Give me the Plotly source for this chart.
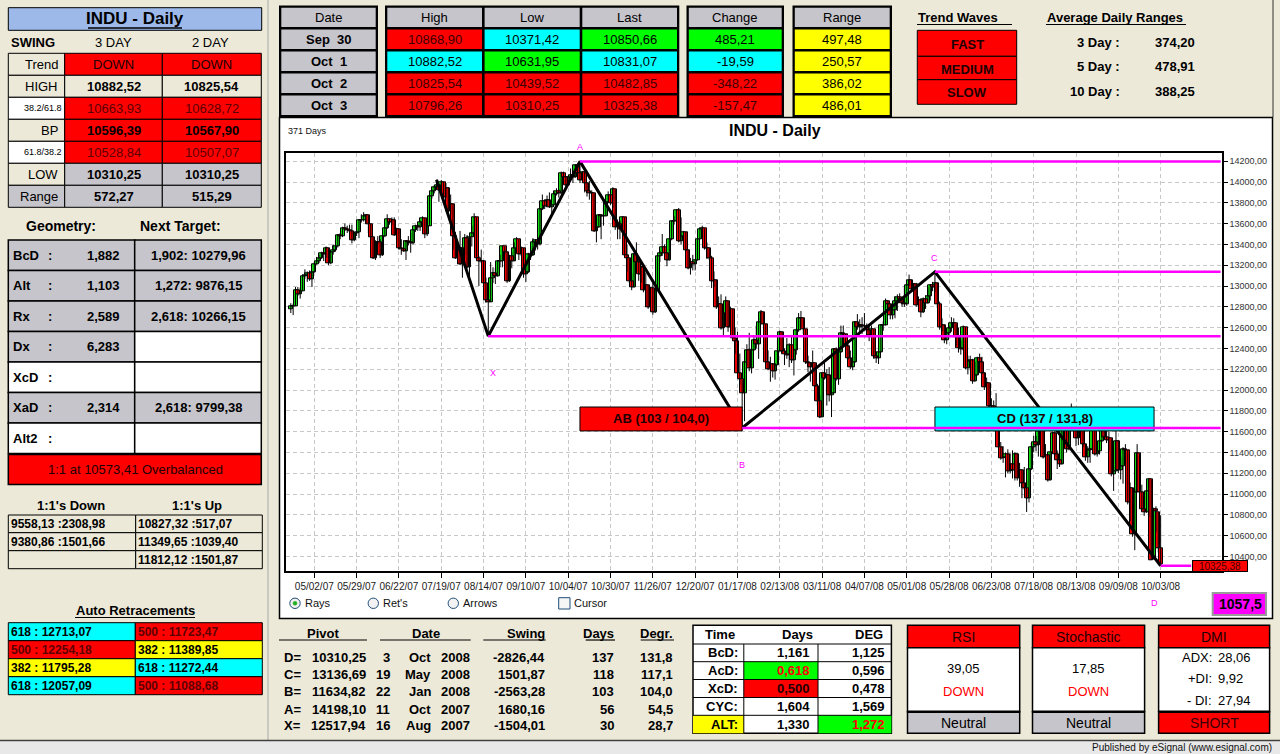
import numpy as np
import pandas as pd
import plotly.graph_objects as go

W, H = 1280, 754
FONT = "Liberation Sans, Arial, sans-serif"

BEIGE = "#ECE9D8"
GREY = "#C6C5CB"
RED = "#FF0000"
CYAN = "#00FFFF"
GREEN = "#00FF00"
YELLOW = "#FFFF00"
MAGENTA = "#FF00FF"
DARKRED = "#3A0000"
MAROON = "#5C0000"
CANDLE_UP = "#14D914"
CANDLE_DOWN = "#F00000"

# ---------------- INDU daily bars, 18 Apr 2007 .. 3 Oct 2008 ----------------
first_session = "2007-04-18"
last_session = "2008-10-03"
market_holidays = ["2007-05-28", "2007-07-04", "2007-09-03", "2007-11-22", "2007-12-25",
                   "2008-01-01", "2008-01-21", "2008-02-18", "2008-03-21", "2008-05-26",
                   "2008-07-04", "2008-09-01"]

opens = [
    # 2007 Apr
    12773, 12804, 12809, 12962, 12919, 12954, 13090, 13106, 13121,
    # May
    13063, 13136, 13212, 13241, 13265, 13313, 13309, 13363, 13215, 13326, 13347, 13384, 13488, 13477, 13557, 13543, 13540, 13526, 13441, 13507, 13521, 13633,
    # Jun
    13628, 13668, 13676, 13595, 13466, 13267, 13424, 13425, 13295, 13482, 13554, 13639, 13613, 13635, 13489, 13546, 13360, 13352, 13338, 13428, 13422,
    # Jul
    13409, 13535, 13577, 13566, 13612, 13650, 13502, 13578, 13862, 13907, 13951, 13972, 13918, 14000, 13851, 13943, 13717, 13785, 13474, 13265, 13358,
    # Aug
    13212, 13362, 13463, 13182, 13469, 13504, 13658, 13271, 13240, 13237, 13029, 12861, 12846, 13079, 13121, 13091, 13236, 13236, 13379, 13322, 13042, 13289, 13239,
    # Sep
    13358, 13449, 13305, 13363, 13113, 13128, 13308, 13292, 13425, 13443, 13403, 13739, 13816, 13767, 13820, 13759, 13779, 13878, 13913,
    # Oct
    13896, 14088, 14047, 13968, 14044, 14066, 14044, 14165, 14079, 14015, 14093, 13985, 13913, 13893, 13889, 13522, 13567, 13676, 13675, 13672, 13807, 13870, 13792,
    # Nov
    13930, 13568, 13595, 13543, 13661, 13300, 13266, 13043, 12988, 13307, 13231, 13110, 13177, 12958, 13010, 12799, 12981, 12743, 12958, 13289, 13312,
    # Dec
    13372, 13315, 13249, 13445, 13620, 13626, 13727, 13433, 13474, 13518, 13340, 13167, 13232, 13207, 13246, 13451, 13549, 13552, 13360, 13366,
    # 2008 Jan
    13265, 13044, 13057, 12800, 12827, 12589, 12735, 12853, 12606, 12778, 12501, 12466, 12159, 12099, 11971, 12270, 12379, 12207, 12384, 12480, 12443,
    # Feb
    12650, 12743, 12635, 12265, 12200, 12247, 12182, 12240, 12373, 12552, 12377, 12348, 12337, 12427, 12284, 12381, 12570, 12685, 12694, 12582,
    # Mar
    12266, 12259, 12214, 12255, 12040, 11894, 11740, 12157, 12110, 12146, 11951, 11972, 12393, 12100, 12361, 12549, 12533, 12423, 12302, 12216,
    # Apr
    12263, 12654, 12606, 12626, 12609, 12612, 12576, 12527, 12582, 12325, 12302, 12362, 12619, 12620, 12849, 12825, 12720, 12763, 12849, 12892, 12872, 12831,
    # May
    12820, 13010, 13058, 12970, 13021, 12814, 12867, 12746, 12876, 12832, 12898, 13010, 12987, 13028, 12829, 12601, 12626, 12480, 12548, 12594, 12646,
    # Jun
    12638, 12504, 12403, 12390, 12604, 12210, 12280, 12290, 12084, 12142, 12307, 12269, 12160, 12029, 12063, 11843, 11842, 11807, 11812, 11453, 11347,
    # Jul
    11350, 11382, 11216, 11289, 11232, 11384, 11147, 11229, 11101, 11055, 10963, 11239, 11447, 11497, 11467, 11603, 11632, 11349, 11371, 11131, 11398, 11584,
    # Aug
    11378, 11326, 11284, 11616, 11656, 11431, 11734, 11782, 11642, 11533, 11616, 11660, 11479, 11349, 11417, 11430, 11628, 11386, 11413, 11503, 11715,
    # Sep
    11544, 11517, 11533, 11188, 11221, 11511, 11231, 11269, 11434, 11422, 10918, 11059, 10610, 11020, 11388, 11016, 10854, 10825, 11022, 11139, 10371.42,
    # Oct
    10850.66, 10825.00, 10482.85,
]

highs = [
    # 2007 Apr
    12835, 12830, 12990, 12990, 12985, 13110, 13160, 13140, 13150,
    # May
    13140, 13235, 13280, 13300, 13330, 13320, 13380, 13365, 13340, 13400, 13440, 13500, 13510, 13570, 13600, 13580, 13590, 13590, 13520, 13550, 13640, 13690,
    # Jun
    13710, 13690, 13680, 13600, 13470, 13440, 13480, 13450, 13500, 13570, 13690, 13650, 13660, 13660, 13560, 13550, 13450, 13440, 13440, 13480, 13510,
    # Jul
    13545, 13590, 13600, 13630, 13670, 13655, 13600, 13870, 13930, 13970, 14021.95, 13975, 14020, 14005, 13990, 13950, 13880, 13790, 13520, 13400, 13530,
    # Aug
    13400, 13500, 13490, 13480, 13580, 13700, 13660, 13290, 13350, 13250, 13080, 12870, 13230, 13180, 13170, 13250, 13300, 13380, 13380, 13330, 13300, 13330, 13420,
    # Sep
    13470, 13450, 13380, 13365, 13190, 13320, 13380, 13460, 13450, 13450, 13750, 13880, 13830, 13870, 13900, 13790, 13910, 13940, 13930,
    # Oct
    14100, 14100, 14050, 14060, 14130, 14070, 14170, 14180, 14198.10, 14100, 14100, 13990, 14010, 13920, 13890, 13600, 13690, 13690, 13760, 13820, 13910, 13880, 13950,
    # Nov
    13930, 13640, 13630, 13670, 13662, 13400, 13267, 13120, 13320, 13420, 13280, 13190, 13180, 13130, 13010, 12990, 13060, 12970, 13300, 13340, 13500,
    # Dec
    13400, 13320, 13460, 13625, 13670, 13740, 13750, 13660, 13530, 13520, 13345, 13270, 13300, 13260, 13460, 13560, 13580, 13553, 13420, 13367,
    # 2008 Jan
    13290, 13140, 13058, 12900, 12920, 12750, 12900, 12855, 12800, 12780, 12600, 12560, 12350, 12100, 12300, 12440, 12550, 12400, 12520, 12620, 12690,
    # Feb
    12770, 12745, 12636, 12380, 12320, 12260, 12260, 12480, 12570, 12560, 12400, 12500, 12450, 12530, 12400, 12590, 12740, 12760, 12695, 12583,
    # Mar
    12330, 12270, 12380, 12256, 12060, 11950, 12160, 12270, 12200, 12220, 12020, 12400, 12410, 12370, 12620, 12620, 12540, 12480, 12380, 12320,
    # Apr
    12660, 12730, 12680, 12700, 12740, 12640, 12620, 12620, 12583, 12370, 12400, 12630, 12660, 12880, 12860, 12830, 12800, 12900, 12920, 12930, 12890, 13000,
    # May
    13020, 13110, 13060, 13030, 13030, 12900, 12870, 12890, 12910, 12990, 13020, 13040, 13136.69, 13030, 12850, 12690, 12630, 12570, 12620, 12700, 12690,
    # Jun
    12640, 12600, 12480, 12620, 12605, 12330, 12330, 12300, 12270, 12320, 12350, 12320, 12170, 12120, 12064, 11920, 11900, 11970, 11813, 11500, 11460,
    # Jul
    11400, 11430, 11390, 11420, 11400, 11390, 11300, 11230, 11260, 11130, 11250, 11490, 11560, 11560, 11630, 11750, 11640, 11480, 11380, 11400, 11600, 11620,
    # Aug
    11420, 11370, 11620, 11720, 11657, 11750, 11870, 11790, 11660, 11700, 11720, 11700, 11480, 11460, 11440, 11650, 11630, 11450, 11530, 11730, 11716,
    # Sep
    11790, 11600, 11534, 11260, 11610, 11520, 11350, 11450, 11480, 11423, 11110, 11060, 11050, 11480, 11390, 11090, 10950, 11140, 11150, 11139.92, 10868.90,
    # Oct
    10882.52, 10825.54, 10796.26,
]

lows = [
    # 2007 Apr
    12740, 12720, 12809, 12905, 12880, 12950, 13070, 13040, 13050,
    # May
    12990, 13130, 13205, 13220, 13260, 13240, 13270, 13200, 13210, 13300, 13330, 13370, 13450, 13470, 13530, 13510, 13510, 13410, 13430, 13480, 13460, 13610,
    # Jun
    13620, 13600, 13510, 13440, 13260, 13250, 13400, 13270, 13290, 13470, 13550, 13590, 13590, 13480, 13430, 13350, 13300, 13330, 13250, 13390, 13320,
    # Jul
    13400, 13520, 13530, 13530, 13600, 13460, 13480, 13578, 13840, 13890, 13930, 13810, 13915, 13790, 13850, 13700, 13690, 13350, 13260, 13210, 13200,
    # Aug
    13080, 13300, 13170, 13070, 13380, 13500, 13260, 13000, 13220, 13000, 12840, 12517.94, 12845, 13030, 13020, 13090, 13180, 13180, 13300, 13030, 13040, 13170, 13239,
    # Sep
    13320, 13250, 13290, 13080, 13040, 13125, 13250, 13290, 13340, 13350, 13390, 13730, 13740, 13760, 13750, 13680, 13778, 13870, 13850,
    # Oct
    13880, 14010, 13930, 13965, 14040, 13990, 14040, 14050, 13990, 14010, 13900, 13860, 13830, 13820, 13520, 13420, 13560, 13450, 13580, 13670, 13800, 13780, 13750,
    # Nov
    13540, 13450, 13450, 13530, 13290, 13140, 13030, 12960, 12985, 13200, 13050, 13030, 12940, 12800, 12780, 12795, 12724, 12740, 12955, 13230, 13290,
    # Dec
    13290, 13190, 13245, 13440, 13590, 13620, 13420, 13400, 13380, 13330, 13160, 13110, 13150, 13150, 13245, 13450, 13500, 13350, 13260, 13250,
    # 2008 Jan
    12980, 12990, 12780, 12730, 12580, 12520, 12620, 12560, 12600, 12490, 12350, 12140, 12050, 11634.82, 11700, 12230, 12180, 12160, 12380, 12400, 12300,
    # Feb
    12630, 12620, 12240, 12190, 12080, 12120, 12100, 12240, 12370, 12360, 12240, 12300, 12220, 12260, 12140, 12340, 12560, 12600, 12540, 12250,
    # Mar
    12170, 12080, 12180, 12030, 11850, 11730, 11740, 12100, 11850, 11890, 11740, 11970, 12090, 12050, 12360, 12490, 12380, 12290, 12200, 12190,
    # Apr
    12262, 12580, 12550, 12540, 12580, 12520, 12470, 12470, 12300, 12260, 12250, 12362, 12570, 12620, 12760, 12680, 12680, 12690, 12760, 12850, 12800, 12800,
    # May
    12810, 13000, 12950, 12900, 12800, 12790, 12700, 12740, 12780, 12830, 12860, 12950, 12940, 12790, 12580, 12560, 12450, 12440, 12510, 12560, 12580,
    # Jun
    12420, 12360, 12340, 12380, 12200, 12150, 12190, 12060, 12080, 12140, 12200, 12150, 12000, 11940, 11830, 11810, 11730, 11790, 11440, 11330, 11300,
    # Jul
    11160, 11200, 11200, 11150, 11130, 11130, 11070, 10960, 11040, 10827.71, 10920, 11230, 11400, 11410, 11360, 11590, 11340, 11300, 11120, 11130, 11390, 11370,
    # Aug
    11240, 11260, 11284, 11560, 11400, 11420, 11700, 11600, 11460, 11470, 11580, 11450, 11320, 11300, 11300, 11430, 11370, 11360, 11380, 11500, 11520,
    # Sep
    11490, 11420, 11170, 11030, 11220, 11200, 11140, 11100, 11300, 10900, 10740, 10590, 10460, 11020, 11000, 10840, 10790, 10820, 10782.05, 10365.45, 10371.42,
    # Oct
    10631.95, 10439.52, 10310.25,
]

closes = [
    # 2007 Apr
    12804, 12809, 12962, 12919, 12954, 13090, 13106, 13121, 13063,
    # May
    13136, 13212, 13241, 13265, 13313, 13309, 13363, 13215, 13326, 13347, 13384, 13488, 13477, 13557, 13543, 13540, 13526, 13441, 13507, 13521, 13633, 13628,
    # Jun
    13668, 13676, 13595, 13466, 13267, 13424, 13425, 13295, 13482, 13554, 13639, 13613, 13635, 13489, 13546, 13360, 13352, 13338, 13428, 13422, 13409,
    # Jul
    13535, 13577, 13566, 13612, 13650, 13502, 13578, 13862, 13907, 13951, 13972, 13918, 14000, 13851, 13943, 13717, 13785, 13474, 13265, 13358, 13212,
    # Aug
    13362, 13463, 13182, 13469, 13504, 13658, 13271, 13240, 13237, 13029, 12861, 12846, 13079, 13121, 13091, 13236, 13236, 13379, 13322, 13042, 13289, 13239, 13358,
    # Sep
    13449, 13305, 13363, 13113, 13128, 13308, 13292, 13425, 13443, 13403, 13739, 13816, 13767, 13820, 13759, 13779, 13878, 13913, 13896,
    # Oct
    14088, 14047, 13968, 14044, 14066, 14044, 14165, 14079, 14015, 14093, 13985, 13913, 13893, 13889, 13522, 13567, 13676, 13675, 13672, 13807, 13870, 13792, 13930,
    # Nov
    13568, 13595, 13543, 13661, 13300, 13266, 13043, 12988, 13307, 13231, 13110, 13177, 12958, 13010, 12799, 12981, 12743, 12958, 13289, 13312, 13372,
    # Dec
    13315, 13249, 13445, 13620, 13626, 13727, 13433, 13474, 13518, 13340, 13167, 13232, 13207, 13246, 13451, 13549, 13552, 13360, 13366, 13265,
    # 2008 Jan
    13044, 13057, 12800, 12827, 12589, 12735, 12853, 12606, 12778, 12501, 12466, 12159, 12099, 11971, 12270, 12379, 12207, 12384, 12480, 12443, 12650,
    # Feb
    12743, 12635, 12265, 12200, 12247, 12182, 12240, 12373, 12552, 12377, 12348, 12337, 12427, 12284, 12381, 12570, 12685, 12694, 12582, 12266,
    # Mar
    12259, 12214, 12255, 12040, 11894, 11740, 12157, 12110, 12146, 11951, 11972, 12393, 12100, 12361, 12549, 12533, 12423, 12302, 12216, 12263,
    # Apr
    12654, 12606, 12626, 12609, 12612, 12576, 12527, 12582, 12325, 12302, 12362, 12619, 12620, 12849, 12825, 12720, 12763, 12849, 12892, 12872, 12831, 12820,
    # May
    13010, 13058, 12970, 13021, 12814, 12867, 12746, 12876, 12832, 12898, 13010, 12987, 13028, 12829, 12601, 12626, 12480, 12548, 12594, 12646, 12638,
    # Jun
    12504, 12403, 12390, 12604, 12210, 12280, 12290, 12084, 12142, 12307, 12269, 12160, 12029, 12063, 11843, 11842, 11807, 11812, 11453, 11347, 11350,
    # Jul
    11382, 11216, 11289, 11232, 11384, 11147, 11229, 11101, 11055, 10963, 11239, 11447, 11497, 11467, 11603, 11632, 11349, 11371, 11131, 11398, 11584, 11378,
    # Aug
    11326, 11284, 11616, 11656, 11431, 11734, 11782, 11642, 11533, 11616, 11660, 11479, 11349, 11417, 11430, 11628, 11386, 11413, 11503, 11715, 11544,
    # Sep
    11517, 11533, 11188, 11221, 11511, 11231, 11269, 11434, 11422, 10918, 11059, 10610, 11020, 11388, 11016, 10854, 10825, 11022, 11143, 10365.45, 10850.66,
    # Oct
    10831.07, 10482.85, 10325.38,
]

date_tick_labels = ["05/02/07", "05/29/07", "06/22/07", "07/19/07", "08/14/07", "09/10/07",
                    "10/04/07", "10/30/07", "11/26/07", "12/20/07", "01/17/08", "02/13/08",
                    "03/11/08", "04/07/08", "05/01/08", "05/28/08", "06/23/08", "07/18/08",
                    "08/13/08", "09/09/08", "10/03/08"]

# XABCD swing pivots (first point is the swing origin)
pivot_names = ["", "X", "A", "B", "C", "D"]
pivot_dates = ["2007-07-17", "2007-08-16", "2007-10-11", "2008-01-22", "2008-05-19", "2008-10-03"]
pivot_prices = [14021.95, 12517.94, 14198.10, 11634.82, 13136.69, 10310.25]
pivot_degrees = [None, 28.7, 54.5, 104.0, 117.1, 131.8]

# ---------------- side panels ----------------
swing_labels = ["Trend", "HIGH", "38.2/61.8", "BP", "61.8/38.2", "LOW", "Range"]
swing_3day = ["DOWN", 10882.52, 10663.93, 10596.39, 10528.84, 10310.25, 572.27]
swing_2day = ["DOWN", 10825.54, 10628.72, 10567.90, 10507.07, 10310.25, 515.29]

geometry_labels = ["BcD", "Alt", "Rx", "Dx", "XcD", "XaD", "Alt2"]
geometry_ratios = [1.882, 1.103, 2.589, 6.283, None, 2.314, None]
target_ratios = [1.902, 1.272, 2.618, None, None, 2.618, None]
target_prices = [10279.96, 9876.15, 10266.15, None, None, 9799.38, None]
one_to_one_price = 10573.41

ones_down = [(9558.13, 2308.98), (9380.86, 1501.66)]
ones_up = [(10827.32, 517.07), (11349.65, 1039.40), (11812.12, 1501.87)]

retrace_left = [(618, 12713.07), (500, 12254.18), (382, 11795.28), (618, 12057.09)]
retrace_right = [(500, 11723.47), (382, 11389.85), (618, 11272.44), (500, 11088.68)]

trend_waves = ["FAST", "MEDIUM", "SLOW"]
adr_periods = [3, 5, 10]

time_labels = ["BcD:", "AcD:", "XcD:", "CYC:", "ALT:"]
time_days = [1.161, 0.618, 0.500, 1.604, 1.330]
time_deg = [1.125, 0.596, 0.478, 1.569, 1.272]

rsi_value = 39.05
stoch_value = 17.85
dmi_adx, dmi_plus, dmi_minus = 28.06, 9.92, 27.94
wave_count = 1057.5


def fmt(v, d=2):
    return f"{v:.{d}f}".replace(".", ",")


# ---------------- bars on a trading-day axis ----------------
dates = pd.bdate_range(first_session, last_session, freq="C", holidays=market_holidays)
o = np.array(opens, float)
h = np.array(highs, float)
l = np.array(lows, float)
c = np.array(closes, float)
n = len(c)
assert len(dates) == n == len(o) == len(h) == len(l), (len(dates), n, len(o), len(h), len(l))
idx = np.arange(n)

tickvals = dates.get_indexer(pd.to_datetime(date_tick_labels, format="%m/%d/%y"))
piv_dt = pd.to_datetime(pivot_dates)
piv_idx = dates.get_indexer(piv_dt)

fig = go.Figure()

wick_x = np.repeat(idx.astype(float), 3)
wick_x[2::3] = np.nan
wick_y = np.column_stack([l, h, np.full(n, np.nan)]).ravel()
fig.add_trace(go.Scatter(x=wick_x, y=wick_y, mode="lines", line=dict(color="black", width=1),
                         hoverinfo="skip", showlegend=False))

up = c >= o
for mask, col in ((up, CANDLE_UP), (~up, CANDLE_DOWN)):
    fig.add_trace(go.Bar(x=idx[mask], y=np.abs(c - o)[mask], base=np.minimum(o, c)[mask],
                         width=1.7, marker=dict(color=col, line=dict(color="black", width=1)),
                         hoverinfo="skip", showlegend=False))

fig.add_trace(go.Scatter(x=piv_idx, y=pivot_prices, mode="lines",
                         line=dict(color="black", width=3), hoverinfo="skip", showlegend=False))

# ---------------- drawing helpers in pixel space ----------------
shapes = []
annotations = []


def px(x):
    return x / W


def py(y):
    return 1 - y / H


def rect(x0, y0, x1, y1, fill, line="black", lw=1.0, layer="above"):
    shapes.append(dict(type="rect", xref="paper", yref="paper", x0=px(x0), x1=px(x1),
                       y0=py(y1), y1=py(y0), fillcolor=fill, layer=layer,
                       line=dict(color=line, width=lw)))


def circle(cx, cy, r, fill, line, lw=1.0):
    shapes.append(dict(type="circle", xref="paper", yref="paper", x0=px(cx - r), x1=px(cx + r),
                       y0=py(cy + r), y1=py(cy - r), fillcolor=fill, line=dict(color=line, width=lw)))


def seg(x0, y0, x1, y1, color="black", lw=1.0):
    shapes.append(dict(type="line", xref="paper", yref="paper", x0=px(x0), x1=px(x1),
                       y0=py(y0), y1=py(y1), line=dict(color=color, width=lw)))


def text(x, y, s, size=13, color="black", bold=False, anchor="center"):
    annotations.append(dict(xref="paper", yref="paper", x=px(x), y=py(y),
                            text=f"<b>{s}</b>" if bold else s, showarrow=False,
                            xanchor=anchor, yanchor="middle", borderpad=0,
                            font=dict(family=FONT, size=size, color=color)))


def ink(fill):
    return DARKRED if fill == RED else "black"


# window chrome
rect(279.5, 117.5, 1272.5, 618.5, "white", "black", 1.5, layer="below")
seg(268, 0, 268, 740, "#A8A8A8", 1)
seg(1273, 0, 1273, 117, "#333333", 1)
rect(0, 740.5, 1280, 754, "#E8E8E8", "rgba(0,0,0,0)", 0)
seg(0, 740.5, 1280, 740.5, "#404040", 1.5)
text(1273, 747, "Published by eSignal (www.esignal.com)", 10, "#111111", anchor="right")

# ---------------- left panel: swing table ----------------
rect(8.3, 7.7, 261.7, 30.3, "#9CB9EA", "black", 1)
text(135, 18.5, "INDU - Daily", 17, bold=True)
seg(88, 28, 182, 28, "black", 1.3)
text(10, 43, "SWING", 13, bold=True, anchor="left")
text(113, 43, "3 DAY", 13)
text(210, 43, "2 DAY", 13)

sw_cols = [8.3, 64.7, 162.3, 261.3]
sw_rows = [53.3, 75.3, 97.3, 119.3, 141.3, 163.3, 185.3, 207.3]
label_fill = [BEIGE, BEIGE, "white", BEIGE, "white", BEIGE, GREY]
value_fill = [RED, BEIGE, RED, RED, RED, GREY, GREY]
for i, lab in enumerate(swing_labels):
    y0, y1 = sw_rows[i], sw_rows[i + 1]
    ym = (y0 + y1) / 2
    rect(sw_cols[0], y0, sw_cols[1], y1, label_fill[i])
    rect(sw_cols[1], y0, sw_cols[2], y1, value_fill[i])
    rect(sw_cols[2], y0, sw_cols[3], y1, value_fill[i])
    small = "/" in lab
    text(63 if small else 59, ym, lab, 9 if small else 13, anchor="right")
    for k, vals in enumerate((swing_3day, swing_2day)):
        v = vals[i]
        s = v if isinstance(v, str) else fmt(v)
        xm = (sw_cols[1 + k] + sw_cols[2 + k]) / 2
        if i == 0:
            text(xm, ym, s, 13, "#200000")
        elif small:
            text(xm, ym, s, 13, MAROON)
        else:
            text(xm, ym, s, 13, "black", bold=True)

text(61, 226, "Geometry:", 14, bold=True)
text(180, 226, "Next Target:", 14, bold=True)

g_top = 240.0
g_step = 30.5
for i, lab in enumerate(geometry_labels):
    y0 = g_top + i * g_step
    y1 = y0 + g_step
    ym = (y0 + y1) / 2
    has_ratio = geometry_ratios[i] is not None
    has_target = target_ratios[i] is not None
    rect(8.3, y0, 134.7, y1, GREY if has_ratio else "white", "black", 1.5)
    rect(134.7, y0, 261.3, y1, GREY if has_target else "white", "black", 1.5)
    text(12, ym, lab, 13, bold=True, anchor="left")
    text(50, ym, ":", 13, bold=True, anchor="center")
    if has_ratio:
        text(121, ym, fmt(geometry_ratios[i], 3), 13, bold=True, anchor="right")
    if has_target:
        text(198, ym, f"{fmt(target_ratios[i], 3)}: {fmt(target_prices[i])}", 13, bold=True)
y_bar = g_top + len(geometry_labels) * g_step
rect(8.3, y_bar + 1, 261.3, y_bar + 31, RED, "black", 1.5)
text(135, y_bar + 16, f"1:1 at {fmt(one_to_one_price)} Overbalanced", 13, "#200000")

text(71, 505, "1:1's Down", 13, bold=True)
text(197, 505, "1:1's Up", 13, bold=True)
oo_rows = [515, 532.7, 550.7, 568.7]
for r in range(3):
    rect(8.3, oo_rows[r], 135.7, oo_rows[r + 1], BEIGE)
    rect(135.7, oo_rows[r], 262.3, oo_rows[r + 1], BEIGE)
    ym = (oo_rows[r] + oo_rows[r + 1]) / 2
    if r < len(ones_down):
        p, d = ones_down[r]
        text(9.5, ym, f"{fmt(p)} :{fmt(d)}", 12, bold=True, anchor="left")
    if r < len(ones_up):
        p, d = ones_up[r]
        text(137, ym, f"{fmt(p)} :{fmt(d)}", 12, bold=True, anchor="left")

text(135, 610, "Auto Retracements", 13, bold=True)
seg(75, 617.5, 195, 617.5, "black", 1.2)
level_fill = {618: CYAN, 500: RED, 382: YELLOW}
rt_rows = [622.7, 640.7, 658.7, 676.7, 694.7]
for r in range(4):
    ym = (rt_rows[r] + rt_rows[r + 1]) / 2
    for (x0, x1), (lev, price) in (((8.3, 135.3), retrace_left[r]), ((135.3, 262.3), retrace_right[r])):
        f = level_fill[lev]
        rect(x0, rt_rows[r], x1, rt_rows[r + 1], f)
        text(x0 + 1.5, ym, f"{lev} : {fmt(price)}", 12, MAROON if f == RED else "black",
             bold=True, anchor="left")

# ---------------- top strip: last four sessions ----------------
row_edges = [6.5, 28.3, 50.3, 72.3, 94.3, 116.2]
last4 = slice(n - 4, n)
chg = (c[1:] - c[:-1])[-4:]
rng = (h - l)[last4]
session_names = [f"{d:%b}\u00a0\u00a0{d.day}" for d in dates[last4]]
hll_fills = [[RED, CYAN, GREEN], [CYAN, GREEN, CYAN], [RED, RED, RED], [RED, RED, RED]]
change_fills = [GREEN, CYAN, RED, RED]


def top_table(col_edges, header, columns, fills, bold_cells=False):
    rect(col_edges[0] - 1, row_edges[0] - 1, col_edges[-1] + 1, row_edges[-1] + 1, "black", "black", 0)
    for j in range(len(col_edges) - 1):
        x0, x1 = col_edges[j] + 1.3, col_edges[j + 1] - 1.3
        xm = (x0 + x1) / 2
        rect(x0, row_edges[0] + 1.3, x1, row_edges[1] - 1.3, GREY, GREY, 0)
        text(xm, (row_edges[0] + row_edges[1]) / 2, header[j], 13)
        for r in range(4):
            f = fills[r][j]
            rect(x0, row_edges[r + 1] + 1.3, x1, row_edges[r + 2] - 1.3, f, f, 0)
            text(xm, (row_edges[r + 1] + row_edges[r + 2]) / 2, columns[j][r], 13, ink(f),
                 bold=bold_cells)


top_table([280, 377], ["Date"], [session_names], [[GREY]] * 4, bold_cells=True)
top_table([386, 483.3, 581, 678.3], ["High", "Low", "Last"],
          [[fmt(v) for v in h[last4]], [fmt(v) for v in l[last4]], [fmt(v) for v in c[last4]]],
          hll_fills)
top_table([687.5, 783], ["Change"], [[fmt(v) for v in chg]], [[f] for f in change_fills])
top_table([793.5, 891], ["Range"], [[fmt(v) for v in rng]], [[YELLOW]] * 4)

text(917, 17, "Trend Waves", 13, bold=True, anchor="left")
seg(917, 24.5, 1012, 24.5, "black", 1.2)
tw_rows = [30.3, 56.3, 79.7, 104.3]
for i, name in enumerate(trend_waves):
    rect(917.3, tw_rows[i], 1016.7, tw_rows[i + 1], RED)
    text(967, (tw_rows[i] + tw_rows[i + 1]) / 2 + 1, name, 13, "#200000", bold=True)

text(1046, 17, "Average Daily Ranges", 13, bold=True, anchor="left")
seg(1046, 24.5, 1186, 24.5, "black", 1.2)
for i, p in enumerate(adr_periods):
    yy = [43, 66, 91][i]
    avg = float(np.mean((h - l)[-p:])) + 1e-9
    text(1121, yy, f"{p} Day :", 13, bold=True, anchor="right")
    text(1154, yy, fmt(avg), 13, bold=True, anchor="left")

# ---------------- chart panel furniture ----------------
text(775, 130, "INDU - Daily", 16, bold=True)
text(287, 131, f"{n} Days", 9, "#111111", anchor="left")

radio = [(295, "Rays", True), (373.3, "Ret's", False), (453.3, "Arrows", False)]
for cx, lab, on in radio:
    circle(cx, 603.3, 5.2, "#F2F2F2", "#1F4E79", 1)
    if on:
        circle(cx, 603.3, 2.0, "#22B022", "#22B022", 0.5)
    text(cx + 9, 603.3, lab, 11, "#111111", anchor="left")
rect(558.7, 597.7, 570, 609, "#F6F6F6", "#1F4E79", 1)
text(573, 603.3, "Cursor", 11, "#111111", anchor="left")

rect(1212.7, 593, 1266, 615, MAGENTA, "#9A9A9A", 2)
text(1263, 604, fmt(wave_count, 1), 14, bold=True, anchor="right")

# ---------------- pattern overlays ----------------
x_lo, x_hi = -2.04, 396.1
y_lo, y_hi = 10260, 14276

b_price = pivot_prices[3]
box_lo, box_hi = b_price - 28, b_price + 202
cd_end = piv_idx[5] - 2.8
shapes.append(dict(type="rect", xref="x", yref="y", x0=piv_idx[2], x1=piv_idx[3], y0=box_lo, y1=box_hi,
                   fillcolor=RED, line=dict(color="black", width=1), layer="above"))
shapes.append(dict(type="rect", xref="x", yref="y", x0=piv_idx[4], x1=cd_end, y0=box_lo, y1=box_hi,
                   fillcolor=CYAN, line=dict(color="black", width=1), layer="above"))

piv_days = [None] + [(piv_dt[i] - piv_dt[i - 1]).days for i in range(1, len(piv_dt))]
for k, x0, x1, i1 in (("AB", piv_idx[2], piv_idx[3], 3), ("CD", piv_idx[4], cd_end, 5)):
    annotations.append(dict(xref="x", yref="y", x=(x0 + x1) / 2, y=(box_lo + box_hi) / 2,
                            text=f"<b>{k} ({piv_days[i1]} / {fmt(pivot_degrees[i1], 1)})</b>",
                            showarrow=False, font=dict(family=FONT, size=13, color="#200000")))

letter_xshift = {"X": 5, "D": -6}
for i in range(1, len(pivot_prices)):
    x_end = piv_idx[i] + 13 if i == len(pivot_prices) - 1 else x_hi - 0.6
    shapes.append(dict(type="line", xref="x", yref="y", x0=piv_idx[i], x1=x_end,
                       y0=pivot_prices[i], y1=pivot_prices[i],
                       line=dict(color=MAGENTA, width=2.5), layer="above"))
    peak = pivot_prices[i] > pivot_prices[i - 1]
    annotations.append(dict(xref="x", yref="y", x=piv_idx[i], y=pivot_prices[i],
                            text=pivot_names[i], showarrow=False,
                            yshift=14 if peak else -37, xshift=letter_xshift.get(pivot_names[i], 0),
                            font=dict(family=FONT, size=9, color=MAGENTA)))

# last-price tag at the right edge of the price scale
annotations.append(dict(xref="paper", yref="y", x=px(1219.5), y=c[-1], text=fmt(c[-1]),
                        xanchor="center", yanchor="middle", yshift=-2,
                        showarrow=False, bgcolor=RED, bordercolor="black", borderwidth=1,
                        borderpad=0, width=54, height=10,
                        font=dict(family=FONT, size=10, color=DARKRED)))

# ---------------- bottom: pivot table ----------------
text(323, 633, "Pivot", 13, bold=True)
seg(279, 640, 367, 640, "black", 1.2)
text(426, 633, "Date", 13, bold=True)
seg(380, 640, 470.7, 640, "black", 1.2)
text(546, 633, "Swing", 13, bold=True, anchor="right")
seg(483.3, 640, 545.7, 640, "black", 1.2)
text(615, 633, "Days", 13, bold=True, anchor="right")
seg(585.7, 640, 615, 640, "black", 1.2)
text(674, 633, "Degr.", 13, bold=True, anchor="right")
seg(640.7, 640, 674, 640, "black", 1.2)

pv_y = [657, 674, 691.3, 709, 725.5]
for r, i in enumerate(range(len(pivot_prices) - 1, 0, -1)):
    yy = pv_y[r]
    d = piv_dt[i]
    text(283, yy, pivot_names[i] + "=", 13, bold=True, anchor="left")
    text(367, yy, fmt(pivot_prices[i]), 13, bold=True, anchor="right")
    text(391, yy, str(d.day), 13, bold=True, anchor="right")
    text(432, yy, f"{d:%b}", 13, bold=True, anchor="right")
    text(470.7, yy, str(d.year), 13, bold=True, anchor="right")
    text(546, yy, fmt(pivot_prices[i] - pivot_prices[i - 1]), 13, bold=True, anchor="right")
    text(615, yy, str(piv_days[i]), 13, bold=True, anchor="right")
    text(674, yy, fmt(pivot_degrees[i], 1), 13, bold=True, anchor="right")

# time ratios table
tx = [693, 743.8, 818, 891.4]
ty = [625.3, 644, 661.7, 679.5, 697.5, 715.3, 733.3]
rect(tx[0], ty[0], tx[3], ty[-1], "white", "black", 1.5)
cell_fill = {(1, 1): GREEN, (2, 1): RED, (4, 0): YELLOW, (4, 2): GREEN}
for (r, col), f in cell_fill.items():
    rect(tx[col], ty[r + 1], tx[col + 1], ty[r + 2], f, "rgba(0,0,0,0)", 0)
for yb in ty[1:-1]:
    seg(tx[0], yb, tx[3], yb, "black", 1)
seg(tx[1], ty[1], tx[1], ty[-1], "black", 1)
seg(tx[2], ty[1], tx[2], ty[-1], "black", 1)
text(704, 634.5, "Time", 13, bold=True, anchor="left")
text(797, 634.5, "Days", 13, bold=True)
text(869, 634.5, "DEG", 13, bold=True)
for r, lab in enumerate(time_labels):
    ym = (ty[r + 1] + ty[r + 2]) / 2
    text(739, ym, lab, 13, bold=True, anchor="right")
    days_fill = cell_fill.get((r, 1))
    deg_fill = cell_fill.get((r, 2))
    days_ink = RED if days_fill == GREEN else ("#200000" if days_fill == RED else "black")
    deg_ink = RED if deg_fill == GREEN else "black"
    text(811, ym, fmt(time_days[r], 3), 13, days_ink, bold=True, anchor="right")
    text(886, ym, fmt(time_deg[r], 3), 13, deg_ink, bold=True, anchor="right")

# indicator boxes
ind_y = [625.3, 647.7, 711.7, 733.3]
panels = [
    (907.5, 1019.7, "RSI", [fmt(rsi_value), "DOWN"], "Neutral", GREY),
    (1032.5, 1144.6, "Stochastic", [fmt(stoch_value), "DOWN"], "Neutral", GREY),
    (1158.6, 1269.6, "DMI", None, "SHORT", RED),
]
for x0, x1, title, body, foot, foot_fill in panels:
    xm = (x0 + x1) / 2
    rect(x0, ind_y[0], x1, ind_y[1], RED, "black", 1.5)
    rect(x0, ind_y[1], x1, ind_y[2], "white", "black", 1.5)
    rect(x0, ind_y[2], x1, ind_y[3], foot_fill, "black", 1.5)
    seg(x0, ind_y[2], x1, ind_y[2], "black", 2.5)
    text(xm, 636.5, title, 14, "#200000")
    text(xm, 722.5, foot, 14, ink(foot_fill))
    if body:
        text(xm, 668, body[0], 13, "black")
        text(xm, 691.5, body[1], 13, RED)
    else:
        for yy, lab, v in ((657, "ADX:", dmi_adx), (678.5, "+DI:", dmi_plus), (700, "- DI:", dmi_minus)):
            text(1213, yy, lab, 13, "black", anchor="right")
            text(1217, yy, fmt(v), 13, "black", anchor="left")

# ---------------- layout ----------------
fig.update_layout(
    width=W, height=H, autosize=False,
    margin=dict(l=0, r=0, t=0, b=0, pad=0),
    paper_bgcolor=BEIGE, plot_bgcolor="white",
    separators=",.",
    barmode="overlay", bargap=0,
    showlegend=False, hovermode=False,
    shapes=shapes, annotations=annotations,
    xaxis=dict(domain=[286 / W, 1222 / W], range=[x_lo, x_hi],
               tickmode="array", tickvals=tickvals, ticktext=date_tick_labels,
               ticks="outside", ticklen=5, tickcolor="black",
               showgrid=True, gridcolor="#C8C8C8", griddash="4px,3px", gridwidth=1,
               showline=True, linecolor="black", linewidth=1.5, mirror=True,
               zeroline=False, fixedrange=True,
               tickfont=dict(family=FONT, size=10, color="#1A1A1A")),
    yaxis=dict(domain=[1 - 571 / H, 1 - 153.3 / H], range=[y_lo, y_hi], side="right",
               tickmode="linear", tick0=0, dtick=200, tickformat=".2f",
               ticks="outside", ticklen=4, tickcolor="black",
               showgrid=True, gridcolor="#C8C8C8", griddash="4px,3px", gridwidth=1,
               showline=True, linecolor="black", linewidth=1.5, mirror=True,
               zeroline=False, fixedrange=True,
               tickfont=dict(family=FONT, size=9, color="#333333")),
)

fig.write_html("out.html", config={"displayModeBar": False})
